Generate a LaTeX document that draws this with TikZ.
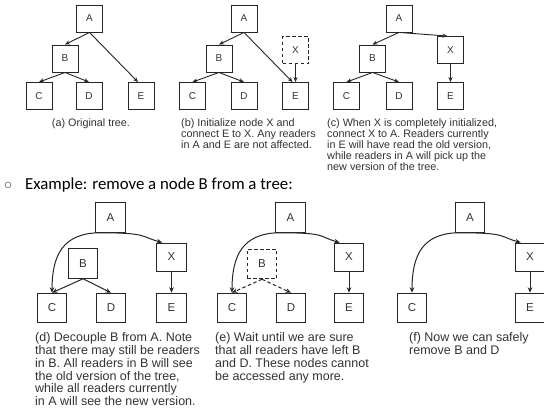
\documentclass[tikz,border=0pt]{standalone}
\usepackage{fontspec}
\setmainfont{Liberation Sans}
\newfontfamily\carl{Carlito}
\newfontfamily\dejavu{DejaVu Sans}
\usetikzlibrary{arrows.meta,calc}
\definecolor{ink}{HTML}{262626}
\definecolor{txt}{HTML}{333333}
\begin{document}
\begin{tikzpicture}[x=1pt,y=-1pt,
  box/.style={draw=ink, line width=0.9pt, minimum width=26pt, minimum height=27pt, inner sep=0pt, text=txt, font=\fontsize{10}{10}\selectfont},
  bbox/.style={box, minimum width=29.5pt, minimum height=29.5pt, line width=1pt, font=\fontsize{11.5}{11.5}\selectfont},
  dbox/.style={dash pattern=on 3.5pt off 2.5pt},
  arr/.style={-{Stealth[length=5pt,width=4.2pt]}, line width=0.9pt, draw=ink},
  barr/.style={arr, line width=1pt, -{Stealth[length=5.5pt,width=4.6pt]}},
  captop/.style={font=\fontsize{10.8}{11}\selectfont, align=left, inner sep=0pt, anchor=north west, text=txt},
  capbot/.style={font=\fontsize{12.5}{12.8}\selectfont, align=left, inner sep=0pt, anchor=north west, text=txt},
]
\useasboundingbox[fill=white] (0,0) rectangle (544,416);

% (a)
\node[box] (aA) at (89.5,18.5) {A};
\node[box] (aB) at (65,58.5) {B};
\node[box] (aC) at (39,96) {C};
\node[box] (aD) at (89,96) {D};
\node[box] (aE) at (141,96) {E};
\draw[arr] (aA.south) -- (aB.north);
\draw[arr] (aA.south) -- ($(aE.north)+(-3,0)$);
\draw[arr] (aB.south) -- (aC.north);
\draw[arr] (aB.south) -- (aD.north);
\node[captop, anchor=north] (capa) at (91,118) {(a) Original tree.};

% (b)
\node[box] (bA) at (244,18.5) {A};
\node[box] (bB) at (219,58.5) {B};
\node[box] (bC) at (192.5,96) {C};
\node[box] (bD) at (244,96) {D};
\node[box] (bE) at (295.5,96) {E};
\node[box, dbox] (bX) at (295.5,50) {X};
\draw[arr] (bA.south) -- ($(bE.north)+(-3,0)$);
\draw[arr] (bA.south) -- (bB.north);
\draw[arr] (bB.south) -- (bC.north);
\draw[arr] (bB.south) -- (bD.north);
\draw[arr] (bX.south) -- (bE.north);
\node[captop] (capb) at (181,118) {(b) Initialize node X and\\connect E to X. Any readers\\in A and E are not affected.};

% (c)
\node[box] (cA) at (399,18.5) {A};
\node[box] (cB) at (372.5,58.5) {B};
\node[box] (cC) at (346.5,96) {C};
\node[box] (cD) at (399,96) {D};
\node[box] (cX) at (450.5,50) {X};
\node[box] (cE) at (450.5,96) {E};
\draw[arr] (cA.south) -- (cB.north);
\draw[arr] (cA.south) -- ($(cX.north)+(-3,0)$);
\draw[arr] (cB.south) -- (cC.north);
\draw[arr] (cB.south) -- (cD.north);
\draw[arr] (cX.south) -- (cE.north);
\node[captop] (capc) at (327,118) {(c) When X is completely initialized,\\connect X to A. Readers currently\\in E will have read the old version,\\while readers in A will pick up the\\new version of the tree.};

% heading
\node[font=\dejavu\fontsize{8}{8}\selectfont, text=black, inner sep=0pt] (bul) at (8,185) {○};
\node[font=\carl\fontsize{16.8}{18}\selectfont, text=black, inner sep=0pt, anchor=base west] (head) at (25,189) {Example: remove a node B from a tree:};

% (d)
\node[bbox] (dA) at (110.5,217.5) {A};
\node[bbox] (dB) at (83,263.5) {B};
\node[bbox] (dC) at (52,308) {C};
\node[bbox] (dD) at (111,308) {D};
\node[bbox, minimum height=28pt] (dX) at (171.5,257) {X};
\node[bbox] (dE) at (171.5,308) {E};
\draw[barr] ($(dA.south west)+(3,0)$) .. controls +(-35,1) and +(0,-38) .. (dC.north);
\draw[barr] ($(dA.south west)+(3,0)$) .. controls +(50,0) and +(-22,-6) .. ($(dX.north west)+(6,0)$);
\draw[barr] (dB.south) -- (dC.north);
\draw[barr] (dB.south) -- (dD.north);
\draw[barr] (dX.south) -- (dE.north);
\node[capbot] (capd) at (35,332.5) {(d) Decouple B from A. Note\\that there may still be readers\\in B. All readers in B will see\\the old version of the tree,\\while all readers currently\\in A will see the new version.};

% (e)
\node[bbox] (eA) at (290.5,217.5) {A};
\node[bbox, dbox] (eB) at (262,264) {B};
\node[bbox] (eC) at (232,308) {C};
\node[bbox] (eD) at (291,308) {D};
\node[bbox, minimum height=28pt] (eX) at (349,257) {X};
\node[bbox] (eE) at (349,308) {E};
\draw[barr] ($(eA.south west)+(3,0)$) .. controls +(-35,1) and +(0,-38) .. (eC.north);
\draw[barr] ($(eA.south west)+(3,0)$) .. controls +(50,0) and +(-22,-6) .. ($(eX.north west)+(6,0)$);
\draw[barr, dbox] (eB.south) -- (eC.north);
\draw[barr, dbox] (eB.south) -- (eD.north);
\draw[barr] (eX.south) -- (eE.north);
\node[capbot] (cape) at (215,332.5) {(e) Wait until we are sure\\that all readers have left B\\and D. These nodes cannot\\be accessed any more.};

% (f)
\node[bbox] (fA) at (470,217.5) {A};
\node[bbox] (fC) at (412,308) {C};
\node[bbox, minimum height=28pt] (fX) at (530,257) {X};
\node[bbox] (fE) at (530,308) {E};
\draw[barr] ($(fA.south west)+(3,0)$) .. controls +(-35,1) and +(0,-38) .. (fC.north);
\draw[barr] ($(fA.south west)+(3,0)$) .. controls +(50,0) and +(-22,-6) .. ($(fX.north west)+(6,0)$);
\draw[barr] (fX.south) -- (fE.north);
\node[capbot] (capf) at (409,332.5) {(f) Now we can safely\\remove B and D};
\end{tikzpicture}
\end{document}
